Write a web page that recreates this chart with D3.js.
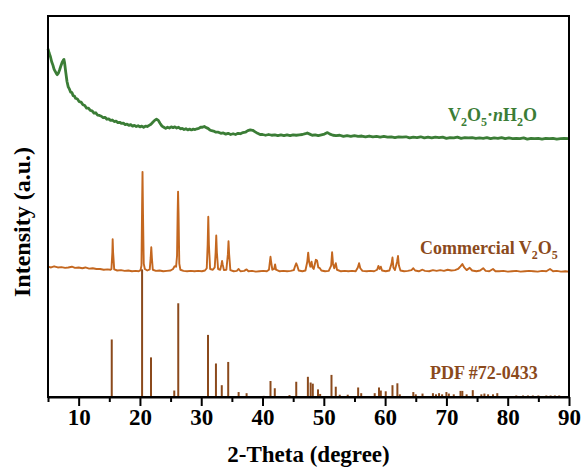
<!DOCTYPE html>
<html>
<head>
<meta charset="utf-8">
<script src="https://cdn.jsdelivr.net/npm/d3@7/dist/d3.min.js"></script>
<style>
  html, body { margin: 0; padding: 0; background: #fff; }
  svg { display: block; }
  text { font-family: "Liberation Serif", "Times New Roman", serif; font-weight: bold; }
</style>
</head>
<body>
<svg id="chart" width="583" height="468"></svg>
<script>
// X-ray diffraction patterns, 2-theta in degrees vs. stacked intensity (a.u.)

// V2O5·nH2O (hydrated, broad humps on a decaying background)
const hydrateX = [5.0,5.2,5.4,5.6,5.8,6.0,6.2,6.4,6.5,6.7,6.9,7.1,7.3,7.5,7.6,7.7,7.9,8.1,8.3,8.5,8.7,8.9,9.1,9.3,9.5,9.8,10.1,10.4,10.7,11.0,11.3,11.6,11.9,12.2,12.5,12.8,13.1,13.4,13.7,14.0,14.3,14.6,14.9,15.2,15.5,15.8,16.1,16.4,16.7,17.0,17.3,17.6,17.9,18.2,18.5,18.8,19.1,19.4,19.7,20.0,20.3,20.6,20.9,21.2,21.5,21.8,22.1,22.4,22.7,23.0,23.3,23.6,23.9,24.2,24.5,24.8,25.1,25.4,25.7,26.0,26.3,26.6,26.9,27.2,27.5,27.8,28.1,28.4,28.7,29.0,29.3,29.6,29.9,30.2,30.5,30.8,31.1,31.4,31.7,32.0,32.4,32.8,33.2,33.6,34.0,34.4,34.8,35.2,35.6,36.0,36.4,36.8,37.2,37.6,38.0,38.4,38.8,39.2,39.6,40.0,40.5,41.0,41.5,42.0,42.5,43.0,43.5,44.0,44.5,45.0,45.5,46.0,46.5,47.0,47.3,47.7,48.1,48.6,49.1,49.6,50.1,50.6,51.0,51.5,52.0,52.6,53.2,53.8,54.4,55.0,55.6,56.2,56.8,57.4,58.0,58.6,59.2,59.8,60.4,61.0,61.6,62.2,62.8,63.4,64.0,64.6,65.2,65.8,66.4,67.0,67.6,68.2,68.8,69.4,70.0,70.6,71.2,71.8,72.4,73.0,73.6,74.2,74.8,75.4,76.0,76.6,77.2,77.8,78.4,79.0,79.6,80.2,80.8,81.4,82.0,82.6,83.2,83.8,84.4,85.0,85.6,86.2,86.8,87.4,88.0,88.6,89.2,90.0];
const hydrateY = [91.4,90.2,89.3,88.0,87.1,86.0,85.4,84.8,84.6,85.0,85.9,86.9,87.8,88.4,88.6,87.8,85.2,82.8,81.4,80.8,80.0,79.9,79.1,79.0,78.4,78.2,77.5,77.4,76.7,76.5,75.8,75.8,75.2,75.1,74.5,74.6,74.0,73.9,73.7,73.3,73.4,72.9,73.0,72.6,72.7,72.3,72.4,72.0,72.1,71.8,71.9,71.5,71.6,71.3,71.5,71.1,71.3,71.0,71.2,70.9,71.1,70.8,71.1,71.0,71.3,71.6,72.1,72.6,72.9,72.6,71.8,71.1,70.8,70.5,70.8,70.6,70.9,70.7,70.9,70.6,70.8,70.4,70.5,70.2,70.4,70.1,70.3,70.1,70.3,70.2,70.4,70.5,70.8,70.8,71.0,70.7,70.5,70.1,69.9,69.8,69.5,69.5,69.2,69.3,69.0,69.2,68.9,69.1,68.9,69.2,69.1,69.4,69.5,69.9,70.1,70.0,69.6,69.2,68.9,68.9,68.7,68.9,68.7,68.8,68.6,68.8,68.6,68.8,68.6,68.8,68.7,68.8,68.9,69.1,69.3,69.0,68.7,68.8,68.6,68.8,69.0,69.4,69.0,68.7,68.6,68.7,68.4,68.6,68.4,68.6,68.4,68.5,68.3,68.5,68.3,68.4,68.2,68.4,68.2,68.3,68.1,68.3,68.2,68.3,68.0,68.2,68.1,68.3,68.0,68.2,68.0,68.2,68.1,68.2,67.9,68.1,68.0,68.2,67.9,68.1,68.0,68.1,67.9,68.0,67.9,68.1,67.8,68.0,67.9,68.1,67.8,68.0,67.8,67.9,67.8,68.0,67.7,67.9,67.8,67.9,67.7,67.9,67.8,67.9,67.7,67.8,67.9,67.8];

// Commercial V2O5 (sharp orthorhombic reflections)
const commercialX = [5.0,5.5,6.0,6.6,7.2,7.8,8.3,8.9,9.4,10.0,10.6,11.1,11.7,12.3,12.9,13.5,14.1,14.7,15.2,15.35,15.5,15.55,15.62,15.8,16.3,16.9,17.5,18.1,18.7,19.3,19.8,20.1,20.25,20.35,20.42,20.5,20.62,20.8,21.2,21.6,21.75,21.85,21.95,22.1,22.6,23.2,23.8,24.4,25.0,25.4,25.65,25.9,26.05,26.15,26.22,26.3,26.42,26.6,27.1,27.7,28.3,28.9,29.5,30.1,30.6,30.9,31.05,31.15,31.25,31.45,31.9,32.2,32.35,32.45,32.55,32.75,33.1,33.3,33.4,33.5,33.7,34.1,34.35,34.45,34.55,34.75,35.3,35.8,36.1,36.4,37.0,37.4,37.7,38.3,38.9,39.5,40.1,40.7,41.05,41.2,41.3,41.4,41.6,41.9,42.05,42.2,42.8,43.4,44.0,44.6,45.1,45.35,45.5,45.65,45.9,46.5,47.0,47.3,47.45,47.6,47.8,48.0,48.15,48.35,48.7,48.9,49.1,49.35,49.6,50.2,50.8,51.2,51.35,51.5,51.7,51.95,52.15,52.8,53.4,54.0,54.6,55.2,55.55,55.75,55.95,56.3,57.0,57.6,58.2,58.7,58.9,59.1,59.3,59.5,60.1,60.7,61.05,61.2,61.35,61.6,61.95,62.1,62.25,62.5,63.1,63.7,64.3,64.6,64.9,65.5,66.1,66.5,67.2,67.8,68.4,69.0,69.6,70.2,70.8,71.4,71.9,72.3,72.6,72.9,73.3,73.8,74.2,74.9,75.5,76.0,76.4,77.0,77.6,78.0,78.6,79.3,80.0,80.7,81.4,82.1,82.8,83.5,84.2,84.9,85.6,86.3,86.9,87.4,88.0,88.7,89.4,90.0];
const commercialY = [34.2,34.0,34.3,34.0,34.1,33.9,34.0,34.2,33.9,34.0,33.8,34.0,33.7,33.8,33.6,33.6,33.4,33.5,33.4,33.6,38.0,41.4,38.0,33.5,33.2,33.3,33.1,33.2,33.0,33.1,33.0,33.3,34.5,50.0,59.1,48.0,35.0,33.6,33.2,33.5,36.5,39.3,36.5,33.4,33.1,33.2,33.0,33.1,33.2,33.6,34.3,34.2,37.0,48.0,53.9,48.0,35.0,33.4,33.1,33.0,33.1,33.0,33.1,33.0,33.2,33.8,40.0,47.3,40.0,33.6,33.4,34.0,38.0,42.4,38.0,33.6,33.4,34.8,35.7,34.8,33.3,33.4,37.5,40.9,37.5,33.3,33.0,33.1,33.6,33.0,33.1,33.5,33.0,33.1,32.9,33.0,33.1,33.0,33.4,35.5,36.8,35.5,33.4,33.6,34.8,33.4,33.0,33.1,33.0,33.1,33.3,34.5,35.1,34.5,33.2,33.0,33.2,35.5,37.9,35.5,34.2,35.5,34.0,33.6,36.0,35.8,34.0,33.8,33.2,33.0,33.1,34.5,38.0,35.0,33.8,35.1,33.4,33.0,33.1,33.0,33.1,33.0,34.0,35.1,33.8,33.1,33.0,33.1,33.0,33.4,34.4,33.6,34.2,33.2,33.0,33.2,35.0,36.6,34.0,33.3,35.5,37.0,34.5,33.2,33.0,33.1,33.3,33.8,33.2,33.0,33.4,33.1,33.0,33.3,33.1,33.3,33.1,33.4,33.2,33.3,33.6,34.3,34.9,34.0,33.3,33.9,33.2,33.0,33.2,33.8,33.1,33.0,33.6,33.0,33.0,33.1,32.9,33.0,33.1,32.9,33.0,33.1,33.0,32.9,33.1,33.0,33.6,33.0,33.1,32.9,33.0,32.9];

// PDF #72-0433 reference lines
const pdfPos = [15.4,20.35,21.8,25.6,26.25,31.1,32.4,33.35,34.4,36.1,37.4,40.2,41.3,42.0,44.4,45.5,47.4,47.85,48.2,49.05,49.4,51.25,51.95,52.6,53.9,55.6,56.1,58.3,59.0,59.3,60.1,61.2,62.0,62.4,64.6,65.0,66.1,67.8,68.3,68.8,69.3,70.0,70.4,71.2,72.3,72.6,73.3,74.3,75.7,76.2,76.8,77.6,78.3,81.4,82.5,83.3,84.1,85.0,86.3,87.0,87.7,88.4];
const pdfInt = [15.1,33.5,10.4,1.7,24.6,16.3,8.8,3.1,9.2,1.3,1.0,0.3,4.2,2.3,0.5,4.0,5.3,3.8,3.5,2.0,0.8,5.8,2.7,0.6,0.6,2.5,1.0,1.0,2.5,1.7,1.5,3.1,3.6,0.7,1.3,0.7,0.9,1.0,0.7,1.0,0.7,1.3,0.9,0.7,1.6,1.6,0.7,1.8,0.7,0.9,0.7,0.7,1.0,0.4,0.4,0.4,0.4,0.4,0.4,0.4,0.4,0.4];

const majorTicks = [10,20,30,40,50,60,70,80,90];
const minorTicks = [5,15,25,35,45,55,65,75,85];

const svg = d3.select("#chart");
const plotLeft = 48, plotRight = 569, plotTop = 16, plotBottom = 397;

const x = d3.scaleLinear().domain([5, 90]).range([plotLeft, plotRight]);
const y = d3.scaleLinear().domain([0, 100]).range([plotBottom, plotTop]);

const line = d3.line().x(d => x(d[0])).y(d => y(d[1]));

// hydrate trace
svg.append("path")
  .datum(d3.zip(hydrateX, hydrateY))
  .attr("d", line)
  .attr("fill", "none")
  .attr("stroke", "#3b7d36")
  .attr("stroke-width", 2.8)
  .attr("stroke-linejoin", "round");

// commercial trace
svg.append("path")
  .datum(d3.zip(commercialX, commercialY))
  .attr("d", line)
  .attr("fill", "none")
  .attr("stroke", "#c4671f")
  .attr("stroke-width", 1.9)
  .attr("stroke-linejoin", "round");

// reference sticks
svg.append("g").selectAll("line")
  .data(d3.zip(pdfPos, pdfInt))
  .join("line")
  .attr("x1", d => x(d[0])).attr("x2", d => x(d[0]))
  .attr("y1", y(0)).attr("y2", d => y(d[1]))
  .attr("stroke", "#8b4a1c")
  .attr("stroke-width", 2);

// frame
svg.append("rect")
  .attr("x", plotLeft).attr("y", plotTop)
  .attr("width", plotRight - plotLeft).attr("height", plotBottom - plotTop)
  .attr("fill", "none")
  .attr("stroke", "#000")
  .attr("stroke-width", 2);

// axes
const xAxis = svg.append("g")
  .attr("transform", `translate(0,${plotBottom})`)
  .call(d3.axisBottom(x).tickValues(majorTicks).tickSize(9).tickPadding(3).tickSizeOuter(0));
xAxis.select(".domain").attr("stroke-width", 2);
xAxis.selectAll(".tick line").attr("stroke-width", 2);
xAxis.selectAll(".tick text")
  .attr("font-size", 23)
  .attr("font-family", "'Liberation Serif', 'Times New Roman', serif")
  .attr("font-weight", "bold")
  .attr("fill", "#000");

const xMinor = svg.append("g")
  .attr("transform", `translate(0,${plotBottom})`)
  .call(d3.axisBottom(x).tickValues(minorTicks).tickSize(5).tickFormat("").tickSizeOuter(0));
xMinor.select(".domain").remove();
xMinor.selectAll(".tick line").attr("stroke-width", 2);

// axis titles
svg.append("text")
  .attr("x", (plotLeft + plotRight) / 2).attr("y", 462)
  .attr("text-anchor", "middle")
  .attr("font-size", 23)
  .attr("fill", "#000")
  .text("2-Theta (degree)");

svg.append("text")
  .attr("transform", `translate(30,222) rotate(-90)`)
  .attr("text-anchor", "middle")
  .attr("font-size", 24)
  .attr("fill", "#000")
  .text("Intensity (a.u.)");

// series labels with subscripts
function label(parts, px, py, color) {
  const t = svg.append("text")
    .attr("x", px).attr("y", py)
    .attr("font-size", 18)
    .attr("fill", color);
  parts.forEach(p => {
    const s = t.append("tspan").text(p.t);
    if (p.sub) s.attr("font-size", 12).attr("dy", 5);
    else if (p.back) s.attr("dy", -5);
    if (p.italic) s.attr("font-style", "italic");
  });
}

label([{t:"V"},{t:"2",sub:true},{t:"O",back:true},{t:"5",sub:true},{t:"·",back:true},{t:"n",italic:true},{t:"H"},{t:"2",sub:true},{t:"O",back:true}],
  448, 121, "#3b7d36");
label([{t:"Commercial V"},{t:"2",sub:true},{t:"O",back:true},{t:"5",sub:true}],
  420, 254, "#8b4a1c");
label([{t:"PDF #72-0433"}], 430, 379, "#8b4a1c");
</script>
</body>
</html>
